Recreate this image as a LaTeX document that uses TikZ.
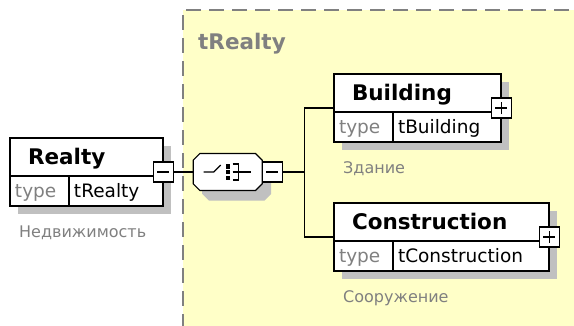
\documentclass[tikz,border=0pt]{standalone}
\usepackage{fontspec}
\setmainfont{DejaVu Sans}
\usepackage{xcolor}
\usepackage{tikz}
\definecolor{groupyellow}{RGB}{255,255,200}
\definecolor{shadowgray}{RGB}{192,192,192}
\definecolor{labelgray}{RGB}{128,128,128}
\usetikzlibrary{positioning}
\usetikzlibrary{fit}
\usetikzlibrary{shapes.misc}
\usetikzlibrary{shadows}
\tikzstyle{elshadow} = [drop shadow={shadow xshift=8pt, shadow yshift=-8pt, fill=shadowgray, opacity=1}]
\tikzstyle{element} = [rectangle, draw, fill=white, line width=1.2pt, outer sep=0pt,
    anchor=north west, inner xsep=18pt, align=left, minimum height=38pt,
    text height=15.7pt, text depth=0pt, font=\fontsize{21.5}{24}\selectfont\bfseries, elshadow]
\tikzstyle{typecell} = [rectangle, draw, fill=white, line width=1.2pt, outer sep=0pt,
    inner xsep=5pt, align=left, minimum height=30pt,
    text height=13.5pt, text depth=0pt, font=\fontsize{18.5}{20}\selectfont, elshadow]
\tikzstyle{typename} = [typecell, text width=49pt, text=labelgray]
\tikzstyle{notetext} = [inner sep=0pt, text height=11.7pt, text depth=0pt,
    text=labelgray, font=\fontsize{16}{18}\selectfont]
\tikzstyle{minusbox} = [rectangle, draw, fill=white, line width=1.2pt, minimum size=20pt,
    inner sep=0pt, outer sep=0pt,
    path picture={\draw[line width=1.4pt] ([xshift=-6pt]path picture bounding box.center) -- ([xshift=6pt]path picture bounding box.center);}]
\tikzstyle{plusbox} = [rectangle, draw, fill=white, line width=1.2pt, minimum size=20pt,
    inner sep=0pt, outer sep=0pt,
    path picture={\draw[line width=1.4pt] ([xshift=-6pt]path picture bounding box.center) -- ([xshift=6pt]path picture bounding box.center)
        ([yshift=-6pt]path picture bounding box.center) -- ([yshift=6pt]path picture bounding box.center);}]
\tikzstyle{sequence} = [chamfered rectangle, chamfered rectangle xsep=11pt, chamfered rectangle ysep=11pt,
    draw, fill=white, line width=1.2pt, outer sep=0pt, minimum width=69pt, minimum height=37pt,
    drop shadow={shadow xshift=9pt, shadow yshift=-10pt, fill=shadowgray, opacity=1}]
\tikzstyle{groupbox} = [rectangle, draw=labelgray, dash pattern=on 15pt off 8pt, line width=1.5pt,
    fill=groupyellow, outer sep=0pt, anchor=north west, minimum width=450pt, minimum height=360pt]
\tikzstyle{grouptitle} = [inner sep=0pt, text height=15.7pt, text depth=0pt,
    text=labelgray, font=\fontsize{21.5}{24}\selectfont\bfseries]
\tikzstyle{conn} = [line width=1.2pt]

\begin{document}
\begin{tikzpicture}[x=1pt, y=-1pt]
    \useasboundingbox (0,0) rectangle (574,325);
    \clip (0,0) rectangle (574,325);
    \fill[white] (0,0) rectangle (574,325);

    \node[groupbox] (trealty) at (183,10) {};
    \node[grouptitle, below right=24pt and 15pt of trealty.north west] (trealtytitle) {tRealty};

    \node[element, text width=117pt] (realty) at (10,138) {Realty};
    \node[typename, below right=0pt and 0pt of realty.south west] (realtytype) {type};
    \node[typecell, text width=84pt, right=0pt of realtytype] (realtyval) {tRealty};
    \node[fit=(realty)(realtyval), inner sep=0pt] (realtybox) {};
    \node[minusbox] (realtyminus) at (realtybox.east) {};
    \node[notetext, below right=20pt and 9pt of realtytype.south west] (realtynote) {Недвижимость};

    \node[sequence, right=20pt of realtyminus] (seq) {};
    \node[minusbox, right=0pt of seq] (seqminus) {};
    \coordinate[right=22pt of seqminus] (fork);

    \draw[conn] ([xshift=-24pt]seq.center) -- ++(10,0) -- ++(7,-7);
    \fill ([xshift=-2pt,yshift=8pt]seq.center) rectangle ++(4.5,4.5);
    \fill ([xshift=-2pt,yshift=2.25pt]seq.center) rectangle ++(4.5,4.5);
    \fill ([xshift=-2pt,yshift=-3.5pt]seq.center) rectangle ++(4.5,4.5);
    \draw[conn] ([xshift=5pt,yshift=8pt]seq.center) -- ++(6,0) -- ++(0,16) -- ++(-6,0);
    \draw[conn] ([xshift=5pt]seq.center) -- ++(18,0);

    \node[element, text width=131pt] (building) at (334,74) {Building};
    \node[typename, below right=0pt and 0pt of building.south west] (buildingtype) {type};
    \node[typecell, text width=98pt, right=0pt of buildingtype] (buildingval) {tBuilding};
    \node[fit=(building)(buildingval), inner sep=0pt] (buildingbox) {};
    \node[plusbox] (buildingplus) at (buildingbox.east) {};
    \node[notetext, below right=20pt and 9pt of buildingtype.south west] (buildingnote) {Здание};

    \node[element, text width=179pt] (construction) at (334,203) {Construction};
    \node[typename, below right=0pt and 0pt of construction.south west] (constructiontype) {type};
    \node[typecell, text width=146pt, right=0pt of constructiontype] (constructionval) {tConstruction};
    \node[fit=(construction)(constructionval), inner sep=0pt] (constructionbox) {};
    \node[plusbox] (constructionplus) at (constructionbox.east) {};
    \node[notetext, below right=20pt and 9pt of constructiontype.south west] (constructionnote) {Сооружение};

    \draw[conn] (realtyminus) -- (seq);
    \draw[conn] (seqminus) -- (fork);
    \draw[conn] (fork) |- (buildingbox.west);
    \draw[conn] (fork) |- (constructionbox.west);
\end{tikzpicture}
\end{document}
